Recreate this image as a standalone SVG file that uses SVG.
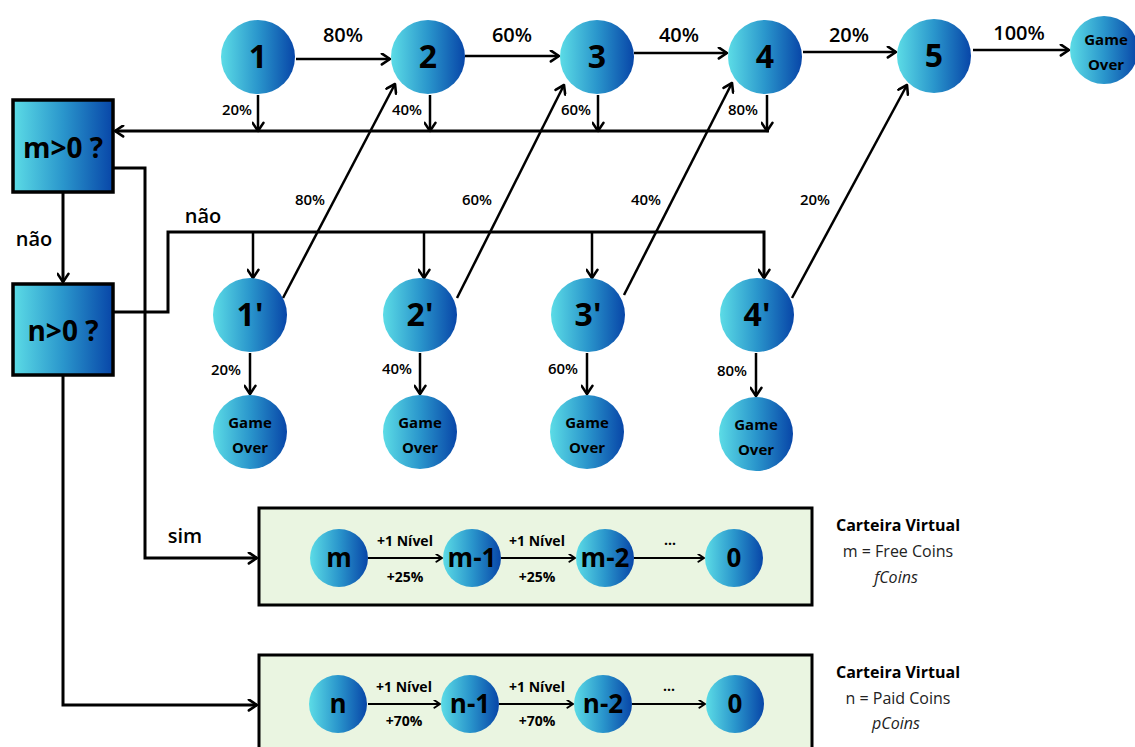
<svg xmlns="http://www.w3.org/2000/svg" width="1135" height="747" viewBox="0 0 1135 747">
<defs>
<linearGradient id="g" x1="0" y1="0" x2="1" y2="0">
<stop offset="0" stop-color="#5cdce6"/>
<stop offset="0.5" stop-color="#2a96cc"/>
<stop offset="1" stop-color="#0846a8"/>
</linearGradient>
<marker id="a" markerUnits="userSpaceOnUse" viewBox="0 0 12 12" markerWidth="13" markerHeight="13" refX="10.5" refY="6" orient="auto">
<path d="M3,1 L10.5,6 L3,11" fill="none" stroke="#000" stroke-width="2.4" stroke-linecap="round" stroke-linejoin="round"/>
</marker>
<marker id="s" markerUnits="userSpaceOnUse" viewBox="0 0 12 12" markerWidth="9" markerHeight="9" refX="10.5" refY="6" orient="auto">
<path d="M3,1 L10.5,6 L3,11" fill="none" stroke="#000" stroke-width="2.6" stroke-linecap="round" stroke-linejoin="round"/>
</marker>
<style>
text{font-family:"Open Sans","Liberation Sans",sans-serif;fill:#000;text-anchor:middle}
.n{fill:url(#g)}
.num{font-size:32px;font-weight:700}
.go{font-size:15px;font-weight:700}
.big{font-size:20px;font-weight:600}
.sm{font-size:15px;font-weight:600}
.bx{fill:url(#g);stroke:#000;stroke-width:3.5}
.q{font-size:28px;font-weight:700}
.c{fill:none;stroke:#000;stroke-width:3}
.c2{fill:none;stroke:#000;stroke-width:2.5}
.c3{fill:none;stroke:#000;stroke-width:2}
.wb{fill:#eaf5e1;stroke:#000;stroke-width:3}
.wn{font-size:26px;font-weight:700}
.lv{font-size:14px;font-weight:700}
.cv{font-size:16px;font-weight:700}
.cd{font-size:16px;font-weight:400;fill:#222}
.ci{font-size:16px;font-style:italic;fill:#222}
</style>
</defs>
<rect width="1135" height="747" fill="#fff"/>

<g id="connectors">
<line class="c2" x1="296" y1="59" x2="390" y2="59" marker-end="url(#a)"/>
<line class="c2" x1="465" y1="56" x2="559" y2="56" marker-end="url(#a)"/>
<line class="c2" x1="634" y1="53" x2="727" y2="53" marker-end="url(#a)"/>
<line class="c2" x1="803" y1="52" x2="896" y2="52" marker-end="url(#a)"/>
<line class="c2" x1="973" y1="50" x2="1069" y2="50" marker-end="url(#a)"/>
<line class="c2" x1="258" y1="95" x2="258" y2="131" marker-end="url(#a)"/>
<line class="c2" x1="430" y1="95" x2="430" y2="131" marker-end="url(#a)"/>
<line class="c2" x1="598" y1="95" x2="598" y2="131" marker-end="url(#a)"/>
<line class="c2" x1="767" y1="95" x2="767" y2="131" marker-end="url(#a)"/>
<line class="c" x1="769" y1="131" x2="115" y2="131" marker-end="url(#a)"/>
<line class="c2" x1="283" y1="298" x2="395" y2="84" marker-end="url(#a)"/>
<line class="c2" x1="457" y1="298" x2="564" y2="85" marker-end="url(#a)"/>
<line class="c2" x1="624" y1="295" x2="732" y2="83" marker-end="url(#a)"/>
<line class="c2" x1="792" y1="298" x2="907" y2="85" marker-end="url(#a)"/>
<line class="c" x1="63" y1="192" x2="63" y2="282" marker-end="url(#a)"/>
<polyline class="c" points="113,168 145,168 145,558 257,558" marker-end="url(#a)"/>
<polyline class="c" points="113,312 168,312 168,232 764,232 764,278" marker-end="url(#a)"/>
<line class="c2" x1="253" y1="232" x2="253" y2="278" marker-end="url(#a)"/>
<line class="c2" x1="424" y1="232" x2="424" y2="278" marker-end="url(#a)"/>
<line class="c2" x1="592" y1="232" x2="592" y2="278" marker-end="url(#a)"/>
<polyline class="c" points="63,375 63,705 257,705" marker-end="url(#a)"/>
<line class="c2" x1="250" y1="353" x2="250" y2="394" marker-end="url(#a)"/>
<line class="c2" x1="420" y1="353" x2="420" y2="394" marker-end="url(#a)"/>
<line class="c2" x1="587" y1="353" x2="587" y2="394" marker-end="url(#a)"/>
<line class="c2" x1="756" y1="353" x2="756" y2="396" marker-end="url(#a)"/>
</g>

<g id="labels">
<text class="big" x="343" y="42">80%</text>
<text class="big" x="512" y="42">60%</text>
<text class="big" x="679" y="42">40%</text>
<text class="big" x="849" y="42">20%</text>
<text class="big" x="1019" y="40">100%</text>
<text class="sm" x="237" y="115">20%</text>
<text class="sm" x="407" y="115">40%</text>
<text class="sm" x="576" y="115">60%</text>
<text class="sm" x="743" y="115">80%</text>
<text class="sm" x="310" y="205">80%</text>
<text class="sm" x="477" y="205">60%</text>
<text class="sm" x="646" y="205">40%</text>
<text class="sm" x="815" y="205">20%</text>
<text class="sm" x="226" y="375">20%</text>
<text class="sm" x="397" y="374">40%</text>
<text class="sm" x="563" y="374">60%</text>
<text class="sm" x="732" y="376">80%</text>
<text class="big" x="34" y="246">não</text>
<text class="big" x="203" y="223">não</text>
<text class="big" x="185" y="543">sim</text>
</g>

<g id="box-m"><rect class="bx" x="13" y="100" width="100" height="92"/><text class="q" x="63" y="158">m&gt;0 ?</text></g>
<g id="box-n"><rect class="bx" x="13" y="284" width="100" height="91"/><text class="q" x="63" y="341">n&gt;0 ?</text></g>

<g id="node-1"><circle class="n" cx="258" cy="57" r="37"/><text class="num" x="258" y="68">1</text></g>
<g id="node-2"><circle class="n" cx="428" cy="57" r="37"/><text class="num" x="428" y="68">2</text></g>
<g id="node-3"><circle class="n" cx="597" cy="57" r="37"/><text class="num" x="597" y="68">3</text></g>
<g id="node-4"><circle class="n" cx="765" cy="57" r="37"/><text class="num" x="765" y="68">4</text></g>
<g id="node-5"><circle class="n" cx="934" cy="56" r="37"/><text class="num" x="934" y="67">5</text></g>
<g id="node-go"><circle class="n" cx="1104" cy="50" r="34"/><text class="go" x="1106" y="45">Game</text><text class="go" x="1106" y="70">Over</text></g>

<g id="node-1p"><circle class="n" cx="250" cy="315" r="37"/><text class="num" x="250" y="326">1'</text></g>
<g id="node-2p"><circle class="n" cx="420" cy="315" r="37"/><text class="num" x="420" y="326">2'</text></g>
<g id="node-3p"><circle class="n" cx="588" cy="315" r="37"/><text class="num" x="588" y="326">3'</text></g>
<g id="node-4p"><circle class="n" cx="757" cy="315" r="37"/><text class="num" x="757" y="326">4'</text></g>

<g id="go-1"><circle class="n" cx="250" cy="432" r="37"/><text class="go" x="250" y="428">Game</text><text class="go" x="250" y="453">Over</text></g>
<g id="go-2"><circle class="n" cx="420" cy="432" r="37"/><text class="go" x="420" y="428">Game</text><text class="go" x="420" y="453">Over</text></g>
<g id="go-3"><circle class="n" cx="587" cy="432" r="37"/><text class="go" x="587" y="428">Game</text><text class="go" x="587" y="453">Over</text></g>
<g id="go-4"><circle class="n" cx="756" cy="434" r="37"/><text class="go" x="756" y="430">Game</text><text class="go" x="756" y="455">Over</text></g>

<g id="wallet-m">
<rect class="wb" x="259" y="508" width="553" height="97"/>
<line class="c3" x1="368" y1="558" x2="442" y2="558" marker-end="url(#s)"/>
<line class="c3" x1="501" y1="558" x2="575" y2="558" marker-end="url(#s)"/>
<line class="c3" x1="634" y1="558" x2="704" y2="558" marker-end="url(#s)"/>
<circle class="n" cx="339" cy="558" r="29"/><text class="wn" x="339" y="567">m</text>
<circle class="n" cx="472" cy="558" r="29"/><text class="wn" x="472" y="567">m-1</text>
<circle class="n" cx="605" cy="558" r="29"/><text class="wn" x="605" y="567">m-2</text>
<circle class="n" cx="734" cy="558" r="29"/><text class="wn" x="734" y="567">0</text>
<text class="lv" x="405" y="546">+1 Nível</text>
<text class="lv" x="405" y="582">+25%</text>
<text class="lv" x="537" y="546">+1 Nível</text>
<text class="lv" x="537" y="582">+25%</text>
<text class="lv" x="670" y="545">...</text>
</g>
<g id="wallet-m-text">
<text class="cv" x="898" y="531">Carteira Virtual</text>
<text class="cd" x="898" y="557">m = Free Coins</text>
<text class="ci" x="896" y="583">fCoins</text>
</g>

<g id="wallet-n">
<rect class="wb" x="259" y="655" width="553" height="100"/>
<line class="c3" x1="368" y1="704" x2="440" y2="704" marker-end="url(#s)"/>
<line class="c3" x1="499" y1="704" x2="573" y2="704" marker-end="url(#s)"/>
<line class="c3" x1="632" y1="704" x2="705" y2="704" marker-end="url(#s)"/>
<circle class="n" cx="338" cy="704" r="29"/><text class="wn" x="338" y="713">n</text>
<circle class="n" cx="470" cy="704" r="29"/><text class="wn" x="470" y="713">n-1</text>
<circle class="n" cx="603" cy="704" r="29"/><text class="wn" x="603" y="713">n-2</text>
<circle class="n" cx="735" cy="704" r="29"/><text class="wn" x="735" y="713">0</text>
<text class="lv" x="404" y="692">+1 Nível</text>
<text class="lv" x="404" y="726">+70%</text>
<text class="lv" x="537" y="692">+1 Nível</text>
<text class="lv" x="537" y="726">+70%</text>
<text class="lv" x="669" y="691">...</text>
</g>
<g id="wallet-n-text">
<text class="cv" x="898" y="678">Carteira Virtual</text>
<text class="cd" x="898" y="704">n = Paid Coins</text>
<text class="ci" x="896" y="729">pCoins</text>
</g>
</svg>
